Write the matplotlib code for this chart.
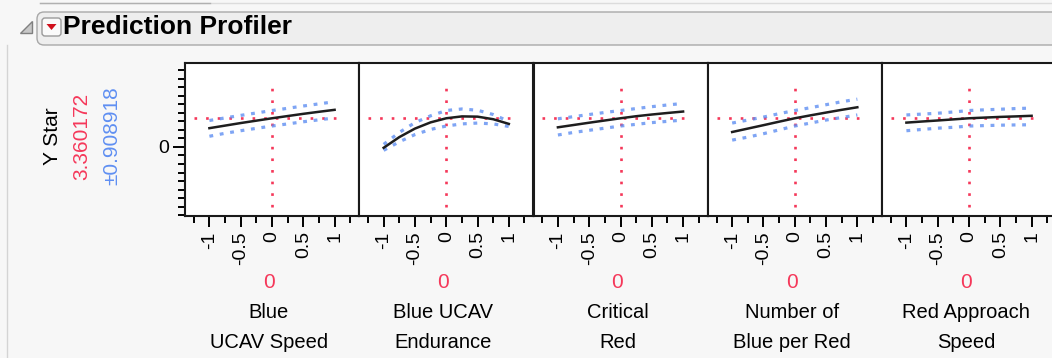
import matplotlib
matplotlib.use("Agg")
import matplotlib.pyplot as plt
from matplotlib.patches import FancyBboxPatch, Polygon
from matplotlib.lines import Line2D
from matplotlib.ticker import MultipleLocator
from matplotlib.transforms import Affine2D

plt.rcParams['font.family'] = ['Liberation Sans', 'DejaVu Sans']
plt.rcParams['axes.unicode_minus'] = False

W, H = 1052, 358

# factor settings (coded -1..1) and profile traces
x_levels = [-1, -0.75, -0.5, -0.25, 0, 0.25, 0.5, 0.75, 1]
factors = [("Blue", "UCAV Speed"), ("Blue UCAV", "Endurance"), ("Critical", "Red"),
           ("Number of", "Blue per Red"), ("Red Approach", "Speed")]

pred_speed = [2.2, 2.5, 2.8, 3.08, 3.36, 3.62, 3.88, 4.12, 4.35]
upper_speed = [3.1, 3.4, 3.7, 3.98, 4.27, 4.53, 4.8, 5.05, 5.3]
lower_speed = [1.25, 1.6, 1.9, 2.18, 2.45, 2.7, 2.95, 3.18, 3.4]

pred_endur = [-0.1, 1.15, 2.15, 2.88, 3.36, 3.58, 3.55, 3.25, 2.7]
upper_endur = [0.3, 1.7, 2.85, 3.65, 4.27, 4.45, 4.3, 3.8, 3.0]
lower_endur = [-0.4, 0.6, 1.45, 2.05, 2.45, 2.7, 2.8, 2.7, 2.4]

pred_crit = [2.3, 2.57, 2.84, 3.1, 3.36, 3.6, 3.8, 3.98, 4.15]
upper_crit = [3.3, 3.55, 3.8, 4.04, 4.27, 4.5, 4.72, 4.92, 5.1]
lower_crit = [1.4, 1.7, 1.95, 2.2, 2.45, 2.65, 2.85, 3.0, 3.15]

pred_nblue = [1.75, 2.15, 2.55, 2.96, 3.36, 3.7, 4.03, 4.35, 4.65]
upper_nblue = [2.8, 3.15, 3.5, 3.9, 4.27, 4.6, 4.95, 5.3, 5.6]
lower_nblue = [0.8, 1.15, 1.55, 2.0, 2.45, 2.8, 3.15, 3.45, 3.75]

pred_appr = [2.85, 2.98, 3.1, 3.23, 3.36, 3.44, 3.52, 3.58, 3.65]
upper_appr = [3.75, 3.85, 3.95, 4.1, 4.27, 4.35, 4.42, 4.5, 4.55]
lower_appr = [1.9, 2.05, 2.2, 2.3, 2.45, 2.5, 2.55, 2.58, 2.6]

preds = [pred_speed, pred_endur, pred_crit, pred_nblue, pred_appr]
uppers = [upper_speed, upper_endur, upper_crit, upper_nblue, upper_appr]
lowers = [lower_speed, lower_endur, lower_crit, lower_nblue, lower_appr]

current_x = 0
y_pred = 3.360172
y_ci = 0.908918
x_ticks = [-1, -0.5, 0, 0.5, 1]
x_ticklabels = ['-1', '-0.5', '0', '0.5', '1']

RED = '#f5385a'
BLUE = '#5f8ff2'

fig = plt.figure(figsize=(W / 100, H / 100), dpi=100, facecolor='#f7f7f7')
# pixel coordinates, y measured from the top
pix = Affine2D().scale(1 / W, -1 / H).translate(0, 1) + fig.transFigure

# header bar
fig.add_artist(Line2D([40, 1052], [3, 3], color='#dcdcdc', lw=1, transform=pix))
fig.add_artist(Line2D([40, 210], [3, 3], color='#b0b0b0', lw=1, transform=pix))
fig.add_artist(Line2D([7, 7], [45, 358], color='#d4d4d4', lw=1, transform=pix))
fig.add_artist(FancyBboxPatch((37, 12), 1040, 33, boxstyle="round,pad=0,rounding_size=7",
                              fc='#eeeeee', ec='#a8a8a8', lw=1, transform=pix))
fig.add_artist(Polygon([[20, 33], [32, 33], [32, 21]], closed=True, fc='#c8c8c8',
                       ec='#808080', lw=1, transform=pix))
fig.add_artist(FancyBboxPatch((42, 18), 19, 18, boxstyle="round,pad=0,rounding_size=3",
                              fc='#fafafa', ec='#9a9a9a', lw=1, transform=pix))
fig.add_artist(Polygon([[46.5, 24], [56.5, 24], [51.5, 30]], closed=True, fc='#d0101c',
                       ec='none', transform=pix))
fig.text(63 / W, 1 - 27.5 / H, "Prediction Profiler", fontsize=19, fontweight='bold',
         ha='left', va='center')

# response labels
fig.text(52 / W, 1 - 136 / H, "Y Star", fontsize=15, rotation=90, ha='center', va='center')
fig.text(82 / W, 1 - 136 / H, f"{y_pred:.6f}", fontsize=15, rotation=90, color=RED,
         ha='center', va='center')
fig.text(112 / W, 1 - 136 / H, f"\u00b1{y_ci:.6f}", fontsize=15, rotation=90, color=BLUE,
         ha='center', va='center')

ax_top, ax_bot = 62.5, 216
step = 174.25
for i in range(5):
    left = 185 + i * step
    ax = fig.add_axes([left / W, 1 - ax_bot / H, 174 / W, (ax_bot - ax_top) / H])
    ax.set_facecolor('white')
    ax.set_xlim(-1.39, 1.39)
    ax.set_ylim(-8.1, 9.9)

    ax.plot([-1.25, 1.13], [y_pred, y_pred], color=RED, lw=1.9, ls=(0, (1, 3.4)), zorder=1)
    ax.plot([current_x, current_x], [-7.0, 7.8], color=RED, lw=1.9, ls=(0, (1, 3.4)), zorder=1)
    ax.plot(x_levels, uppers[i], color=BLUE, lw=2.3, ls=(0, (1.2, 2.1)), alpha=0.8, zorder=2)
    ax.plot(x_levels, lowers[i], color=BLUE, lw=2.3, ls=(0, (1.2, 2.1)), alpha=0.8, zorder=2)
    ax.plot(x_levels, preds[i], color='#1e1e1e', lw=1.8, zorder=3)

    for s in ax.spines.values():
        s.set_linewidth(1.5)
        s.set_color('#1a1a1a')

    ax.set_xticks(x_ticks)
    ax.set_xticklabels(x_ticklabels, rotation=90, fontsize=14)
    ax.xaxis.set_minor_locator(MultipleLocator(0.25))
    ax.tick_params(axis='x', which='major', direction='out', length=8, width=1.4, pad=3)
    ax.tick_params(axis='x', which='minor', direction='out', length=5, width=1.4)

    if i == 0:
        ax.set_yticks([0])
        ax.set_yticklabels(['0'], fontsize=14)
        ax.yaxis.set_minor_locator(MultipleLocator(1))
        ax.tick_params(axis='y', which='major', direction='out', length=8.5, width=1.4, pad=3)
        ax.tick_params(axis='y', which='minor', direction='out', length=5, width=1.4)
    else:
        ax.tick_params(axis='y', which='both', left=False, labelleft=False)

    cx = left + 87 - 3
    fig.text(cx / W, 1 - 282 / H, str(current_x), fontsize=15, color=RED,
             ha='center', va='center')
    fig.text(cx / W, 1 - 313 / H, factors[i][0], fontsize=14.5, ha='center', va='center')
    fig.text(cx / W, 1 - 342 / H, factors[i][1], fontsize=14.5, ha='center', va='center')

fig.savefig('out.png', dpi=100, facecolor=fig.get_facecolor())
